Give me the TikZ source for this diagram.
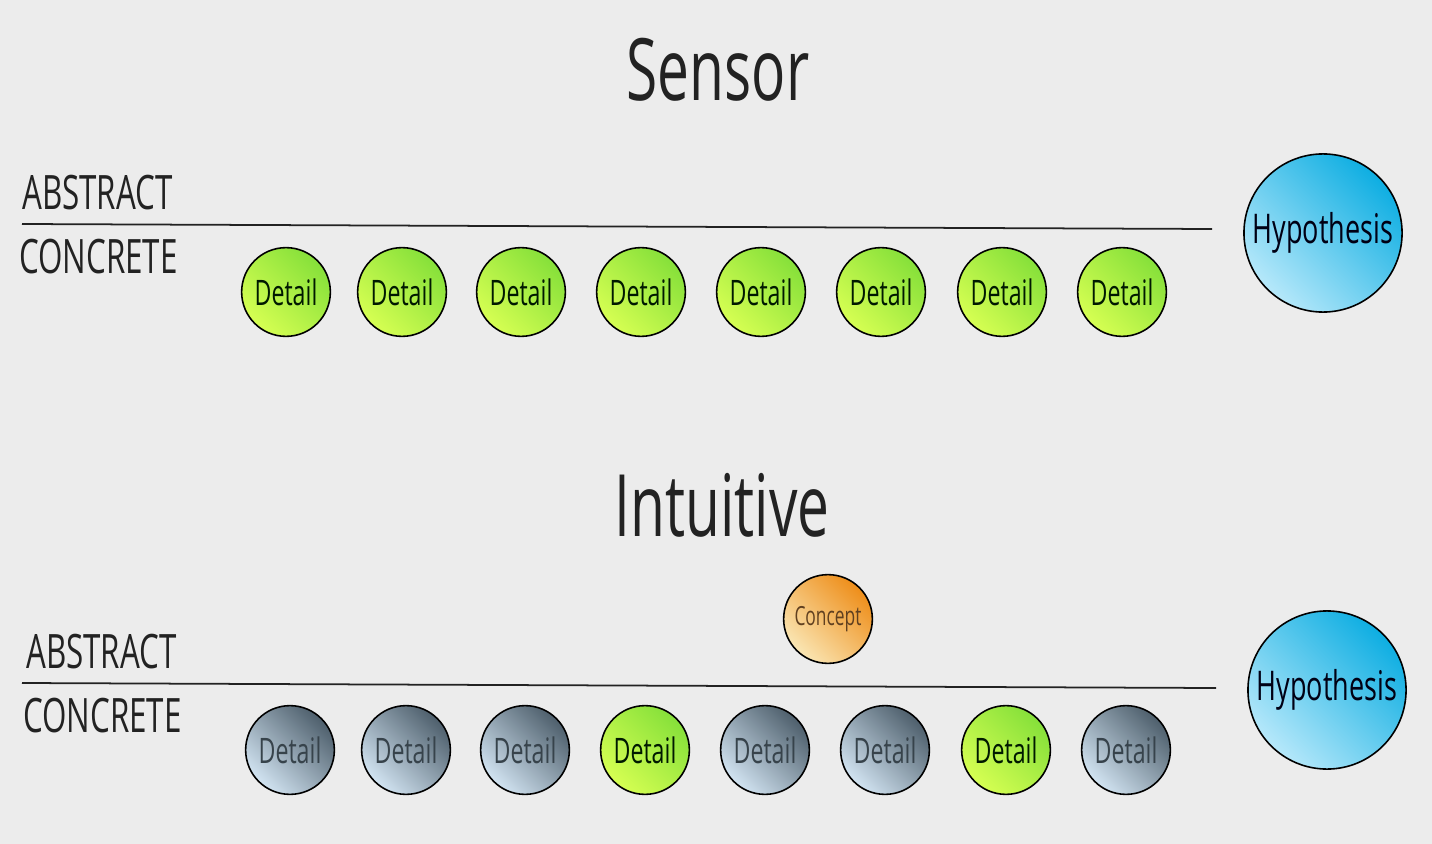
\documentclass[tikz,border=0pt]{standalone}
\usepackage{fontspec}
\setmainfont{Open Sans}[FakeStretch=0.66]
\definecolor{bg}{HTML}{ECECEC}
\definecolor{gdark}{HTML}{86E03A}
\definecolor{glight}{HTML}{D6FF52}
\definecolor{sdark}{HTML}{4E5F6C}
\definecolor{slight}{HTML}{D2E4F2}
\definecolor{bdark}{HTML}{0EAEE2}
\definecolor{blight}{HTML}{B6E8FA}
\definecolor{odark}{HTML}{EE8E1A}
\definecolor{olight}{HTML}{FAE6B4}
\definecolor{txt}{HTML}{222222}
\tikzset{
  ball/.style={circle, draw=black, line width=0.9pt, minimum size=#1, inner sep=0pt},
  detailg/.style={ball=50.5pt, top color=gdark, bottom color=glight, shading angle=-45, text=black!75!green!40!black, font=\fontsize{20}{20}\selectfont},
  details/.style={ball=50.5pt, top color=sdark, bottom color=slight, shading angle=-45, text=sdark!70!black, font=\fontsize{20}{20}\selectfont},
  hypo/.style={ball=90pt, top color=bdark, bottom color=blight, shading angle=-45, text=black!80!blue!40!black, font=\fontsize{23.3}{23.3}\selectfont},
  concept/.style={ball=50.5pt, top color=odark, bottom color=olight, shading angle=-45, text=brown!50!black, font=\fontsize{15}{15}\selectfont},
  title/.style={font=\fontsize{49}{49}\selectfont, text=txt},
  level/.style={font=\fontsize{27}{27}\selectfont, text=txt, anchor=west, inner sep=0pt},
  sep/.style={line width=1pt, draw=txt}
}
\begin{document}
\begin{tikzpicture}[x=0.02cm, y=-0.02cm]
\fill[bg] (0,0) rectangle (1432,844);
\useasboundingbox (0,0) rectangle (1432,844);
% Sensor
\node[title] (t1) at (718,70) {Sensor};
\node[level] (a1) at (22,193) {ABSTRACT};
\node[level] (c1) at (19,257) {CONCRETE};
\coordinate (l1a) at (22,224);
\coordinate (l1b) at (1212,229);
\draw[sep] (l1a) -- (l1b);
\foreach \x [count=\i] in {286,402,521,641,761,881,1002,1122}
  \node[detailg] (s\i) at (\x,292) {Detail};
\node[hypo] (h1) at (1323,233) {Hypothesis};
% Intuitive
\node[title] (t2) at (722,505) {Intuitive};
\node[level] (a2) at (26,652) {ABSTRACT};
\node[level] (c2) at (23,716) {CONCRETE};
\coordinate (l2a) at (22,683);
\coordinate (l2b) at (1216,688);
\draw[sep] (l2a) -- (l2b);
\node[concept] (cc) at (828,619) {Concept};
\foreach \x/\s [count=\i] in {290/details,406/details,525/details,645/detailg,765/details,885/details,1006/detailg,1126/details}
  \node[\s] (i\i) at (\x,750) {Detail};
\node[hypo] (h2) at (1327,690) {Hypothesis};
\end{tikzpicture}
\end{document}
